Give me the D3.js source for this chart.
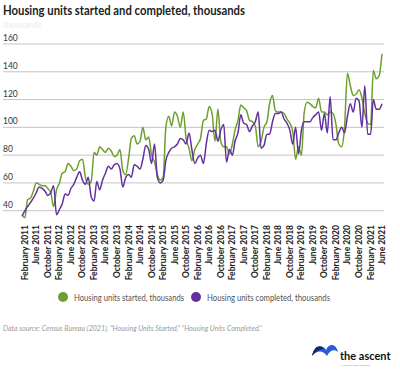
<!DOCTYPE html>
<html>
<head>
<meta charset="utf-8">
<script src="https://cdn.jsdelivr.net/npm/d3@7"></script>
<style>
  body { margin: 0; background: #fff; }
  svg { display: block; font-family: Lato, "Open Sans", sans-serif; }
</style>
</head>
<body>
<div id="chart"></div>
<script>
// Monthly values, Jan 2011 .. Jun 2021 (thousands of units)
const firstMonth = new Date(2011, 0, 1);

const started = [
  37, 35, 48, 49, 54, 60, 59, 58, 58, 56, 53, 43,
  55, 60, 67, 68, 74, 72, 69, 70, 76, 77, 64, 59,
  61, 82, 80, 86, 84, 82, 85, 83, 79, 80, 84, 69,
  66, 78, 92, 94, 88, 90, 100, 91, 93, 80, 75, 66,
  62, 64, 100, 108, 101, 111, 108, 100, 111, 92, 85, 76,
  84, 88, 92, 105, 106, 115, 110, 90, 113, 90, 86, 86,
  81, 88, 98, 105, 116, 114, 112, 105, 104, 101, 86, 90,
  100, 104, 117, 123, 112, 111, 111, 110, 106, 103, 97, 77,
  86, 80, 110, 118, 117, 115, 114, 121, 111, 111, 109, 111,
  110, 102, 88, 86, 100, 139, 130, 123, 124, 127, 121, 110,
  103, 102, 141, 135, 137, 153
];

const completed = [
  36, 40, 43, 46, 49, 53, 57, 56, 54, 51, 53, 58,
  37, 41, 45, 52, 51, 56, 59, 64, 68, 62, 59, 64,
  50, 47, 61, 55, 62, 67, 72, 70, 73, 74, 70, 57,
  64, 66, 64, 73, 72, 70, 77, 87, 84, 74, 88, 64,
  60, 62, 76, 82, 85, 86, 88, 92, 91, 88, 96, 84,
  74, 78, 80, 74, 88, 98, 97, 98, 90, 98, 102, 75,
  84, 80, 90, 96, 109, 103, 102, 97, 101, 104, 111, 85,
  87, 95, 95, 104, 110, 110, 111, 106, 103, 98, 88, 100,
  81, 98, 104, 104, 104, 107, 109, 111, 98, 110, 96, 122,
  91, 91, 96, 100, 96, 108, 117, 111, 121, 119, 100, 130,
  95, 95, 120, 113, 113, 117
];

const seriesNames = ["Housing units started, thousands", "Housing units completed, thousands"];
const seriesColors = ["#6d9f2f", "#62319c"];
const yTicks = [40, 60, 80, 100, 120, 140, 160];
const tickLabels = [
  "February 2011", "June 2011", "October 2011",
  "February 2012", "June 2012", "October 2012",
  "February 2013", "June 2013", "October 2013",
  "February 2014", "June 2014", "October 2014",
  "February 2015", "June 2015", "October 2015",
  "February 2016", "June 2016", "October 2016",
  "February 2017", "June 2017", "October 2017",
  "February 2018", "June 2018", "October 2018",
  "February 2019", "June 2019", "October 2019",
  "February 2020", "June 2020", "October 2020",
  "February 2021", "June 2021"
];

const width = 400, height = 374;
const svg = d3.select("#chart").append("svg")
  .attr("width", width).attr("height", height);

const months = started.map((_, i) => d3.timeMonth.offset(firstMonth, i));
const x = d3.scaleTime()
  .domain([months[0], months[months.length - 1]])
  .range([22, 382]);
const y = d3.scaleLinear().domain([40, 160]).range([210.7, 44]);

// title
svg.append("text")
  .attr("x", 3).attr("y", 15)
  .attr("font-size", 12.5).attr("font-weight", 700)
  .attr("fill", "#222")
  .attr("textLength", 242).attr("lengthAdjust", "spacingAndGlyphs")
  .text("Housing units started and completed, thousands");

svg.append("text")
  .attr("x", 3).attr("y", 28)
  .attr("font-size", 8.5)
  .attr("fill", "#e6eef8")
  .text("thousands");

// gridlines and y labels
const yAxis = svg.append("g");
yAxis.selectAll("line").data(yTicks).join("line")
  .attr("x1", 3).attr("x2", 384)
  .attr("y1", d => y(d)).attr("y2", d => y(d))
  .attr("stroke", "#c4c4c4").attr("stroke-width", 1);
yAxis.selectAll("text").data(yTicks).join("text")
  .attr("x", 3).attr("y", d => y(d) - 3)
  .attr("font-size", 8.5).attr("fill", "#333")
  .text(d => d);

// x labels, every fourth month from February 2011
const tickDates = tickLabels.map((_, k) => d3.timeMonth.offset(firstMonth, 1 + 4 * k));
svg.append("g").selectAll("text").data(tickDates).join("text")
  .attr("transform", d => `translate(${x(d) + 3},225) rotate(-90)`)
  .attr("text-anchor", "end")
  .attr("font-size", 8.5).attr("font-weight", 700)
  .attr("fill", "#222")
  .text((d, k) => tickLabels[k]);

// lines
const line = d3.line()
  .x((d, i) => x(months[i]))
  .y(d => y(d))
  .curve(d3.curveMonotoneX);

[started, completed].forEach((values, s) => {
  svg.append("path")
    .datum(values)
    .attr("fill", "none")
    .attr("stroke", seriesColors[s])
    .attr("stroke-width", 1.5)
    .attr("d", line);
});

// legend
const legend = svg.append("g").attr("font-size", 9).attr("fill", "#555");
const legendX = [63, 196];
const legendWidths = [110, 123];
seriesNames.forEach((name, s) => {
  legend.append("circle")
    .attr("cx", legendX[s]).attr("cy", 297).attr("r", 5)
    .attr("fill", seriesColors[s]);
  legend.append("text")
    .attr("x", legendX[s] + 11).attr("y", 300.5)
    .attr("textLength", legendWidths[s]).attr("lengthAdjust", "spacingAndGlyphs")
    .text(name);
});

// source
svg.append("text")
  .attr("x", 3).attr("y", 331)
  .attr("font-size", 8).attr("font-style", "italic")
  .attr("fill", "#9a9a9a")
  .attr("textLength", 259).attr("lengthAdjust", "spacingAndGlyphs")
  .text("Data source: Census Bureau (2021). \u201cHousing Units Started,\u201d \u201cHousing Units Completed.\u201d");

// logo
const logo = svg.append("g");
logo.append("path")
  .attr("d", "M312,356 C314,346 322,343 326,350 C329,343 336,343 338,352 C334,349 330,350 327,356 C323,350 317,350 312,356 Z")
  .attr("fill", "#2a5bd7");
logo.append("path")
  .attr("d", "M312,356 C314,346 320,344 324,349 C319,349 315,352 312,356 Z")
  .attr("fill", "#14285f");
logo.append("text")
  .attr("x", 340).attr("y", 360)
  .attr("font-size", 11).attr("font-weight", 700)
  .attr("fill", "#111")
  .text("the ascent");
logo.append("text")
  .attr("x", 340).attr("y", 366)
  .attr("font-size", 2.5).attr("fill", "#888")
  .text("A MOTLEY FOOL SERVICE");
</script>
</body>
</html>
